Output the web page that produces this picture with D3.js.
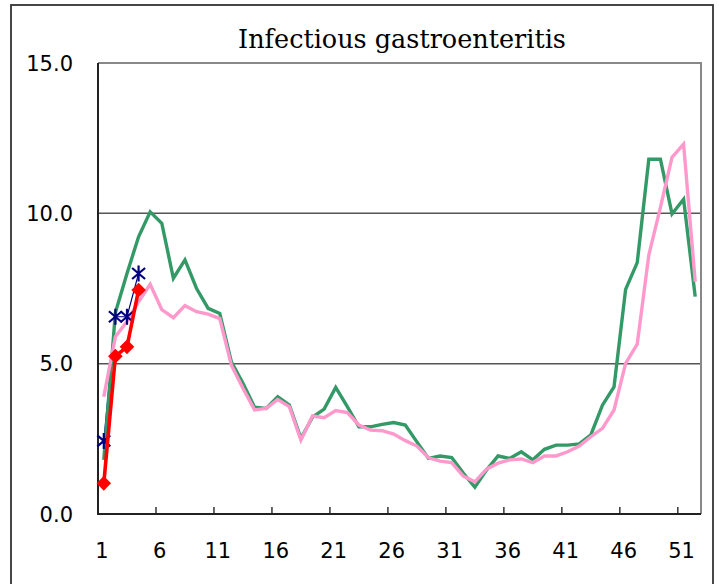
<!DOCTYPE html>
<html>
<head>
<meta charset="utf-8">
<script src="https://cdn.jsdelivr.net/npm/d3@7"></script>
<style>
  html, body { margin: 0; padding: 0; background: #ffffff; }
  svg { display: block; }
</style>
</head>
<body>
<svg id="chart" width="719" height="584"></svg>
<script>
const title = "Infectious gastroenteritis";
const weeks = d3.range(1, 53);
const xTickLabels = ["1", "6", "11", "16", "21", "26", "31", "36", "41", "46", "51"];
const yTicks = [0, 5, 10, 15];
const yTickLabels = ["0.0", "5.0", "10.0", "15.0"];

// green series
const seriesGreen = [1.8, 6.7, 8.0, 9.22, 10.05, 9.67, 7.84, 8.45, 7.5, 6.84,
  6.67, 5.06, 4.35, 3.55, 3.51, 3.9, 3.62, 2.52, 3.22, 3.49,
  4.21, 3.57, 2.9, 2.9, 2.98, 3.04, 2.96, 2.4, 1.85, 1.93,
  1.88, 1.36, 0.89, 1.46, 1.93, 1.85, 2.07, 1.8, 2.15, 2.29,
  2.29, 2.33, 2.63, 3.62, 4.23, 7.47, 8.36, 11.8, 11.8, 9.98,
  10.47, 7.23];
// pink series
const seriesPink = [3.9, 5.9, 6.4, 7.06, 7.64, 6.8, 6.53, 6.93, 6.73, 6.65,
  6.5, 4.95, 4.18, 3.46, 3.51, 3.81, 3.57, 2.46, 3.26, 3.2,
  3.44, 3.37, 2.96, 2.79, 2.77, 2.66, 2.44, 2.26, 1.87, 1.76,
  1.71, 1.26, 1.07, 1.49, 1.69, 1.8, 1.83, 1.71, 1.93, 1.93,
  2.07, 2.26, 2.57, 2.85, 3.46, 5.01, 5.65, 8.61, 10.2, 11.86,
  12.3, 7.73];
// navy asterisk series (weeks 1-4)
const seriesNavy = [2.43, 6.56, 6.56, 8.0];
// red diamond series (weeks 1-4)
const seriesRed = [1.02, 5.25, 5.56, 7.45];

const svg = d3.select("#chart");
const pLeft = 98, pRight = 701, pTop = 63, pBottom = 514;

const x = d3.scaleBand().domain(weeks).range([pLeft, pRight]).padding(0);
const xc = w => x(w) + x.bandwidth() / 2;
const y = d3.scaleLinear().domain([0, 15]).range([pBottom, pTop]);

// outer frame
svg.append("rect")
  .attr("x", 11).attr("y", 5).attr("width", 702).attr("height", 620)
  .attr("fill", "none").attr("stroke", "#333").attr("stroke-width", 1.8);

// title
svg.append("text")
  .attr("x", 402).attr("y", 48)
  .attr("text-anchor", "middle")
  .attr("font-family", "'DejaVu Serif', serif")
  .attr("font-size", 25.5)
  .attr("fill", "#000")
  .text(title);

// gridlines
svg.append("g").selectAll("line")
  .data(yTicks.filter(v => v > 0 && v < 15))
  .join("line")
  .attr("x1", pLeft).attr("x2", pRight)
  .attr("y1", d => y(d)).attr("y2", d => y(d))
  .attr("stroke", "#555").attr("stroke-width", 1.5);

// plot border top/right
svg.append("path")
  .attr("d", `M${pLeft},${y(15)}H${pRight}V${pBottom}`)
  .attr("fill", "none").attr("stroke", "#888").attr("stroke-width", 2);

// y axis labels
svg.append("g").selectAll("text")
  .data(yTicks)
  .join("text")
  .attr("x", 73).attr("y", d => y(d))
  .attr("dy", "0.36em")
  .attr("text-anchor", "end")
  .attr("font-family", "'DejaVu Sans', sans-serif")
  .attr("font-size", 21)
  .attr("fill", "#000")
  .text((d, i) => yTickLabels[i]);

// x axis using d3 axis (ticks inside, at band boundaries)
const tickWeeks = xTickLabels.map(Number);
const xAxis = d3.axisBottom(x)
  .tickValues(tickWeeks)
  .tickSize(-7)
  .tickSizeOuter(0)
  .tickFormat((d, i) => xTickLabels[i]);
const gx = svg.append("g").attr("transform", `translate(0,${pBottom})`).call(xAxis);
gx.select(".domain").remove();
gx.selectAll(".tick").attr("transform", d => `translate(${x(d)},0)`);
gx.selectAll(".tick line").attr("stroke", "#333").attr("stroke-width", 1.5);
gx.selectAll(".tick text")
  .attr("x", x.bandwidth() / 2 - 2)
  .attr("y", 36)
  .attr("dy", "0.36em")
  .attr("font-family", "'DejaVu Sans', sans-serif")
  .attr("font-size", 21)
  .attr("fill", "#000");

// axis lines
svg.append("path")
  .attr("d", `M${pLeft},${pTop}V${pBottom}H${pRight}`)
  .attr("fill", "none").attr("stroke", "#222").attr("stroke-width", 2);

const line = d3.line().x((d, i) => xc(weeks[i])).y(d => y(d));

// navy series line (thin, beneath the others)
svg.append("path").datum(seriesNavy)
  .attr("d", line).attr("fill", "none")
  .attr("stroke", "#000080").attr("stroke-width", 1.2);

svg.append("path").datum(seriesGreen)
  .attr("d", line).attr("fill", "none")
  .attr("stroke", "#339966").attr("stroke-width", 3.4).attr("stroke-linejoin", "miter");

svg.append("path").datum(seriesPink)
  .attr("d", line).attr("fill", "none")
  .attr("stroke", "#FF99CC").attr("stroke-width", 3.4).attr("stroke-linejoin", "miter");

// navy asterisk markers
const star = "M0,-8V8M-6.5,-5.5L6.5,5.5M-6.5,5.5L6.5,-5.5";
svg.append("g").selectAll("path")
  .data(seriesNavy)
  .join("path")
  .attr("transform", (d, i) => `translate(${xc(weeks[i])},${y(d)})`)
  .attr("d", star)
  .attr("fill", "none").attr("stroke", "#000080").attr("stroke-width", 2.2);

// red series
svg.append("path").datum(seriesRed)
  .attr("d", line).attr("fill", "none")
  .attr("stroke", "#FF0000").attr("stroke-width", 3.6);
const diamond = "M0,-7.3L7.3,0L0,7.3L-7.3,0Z";
svg.append("g").selectAll("path")
  .data(seriesRed)
  .join("path")
  .attr("transform", (d, i) => `translate(${xc(weeks[i])},${y(d)})`)
  .attr("d", diamond)
  .attr("fill", "#FF0000");
</script>
</body>
</html>
